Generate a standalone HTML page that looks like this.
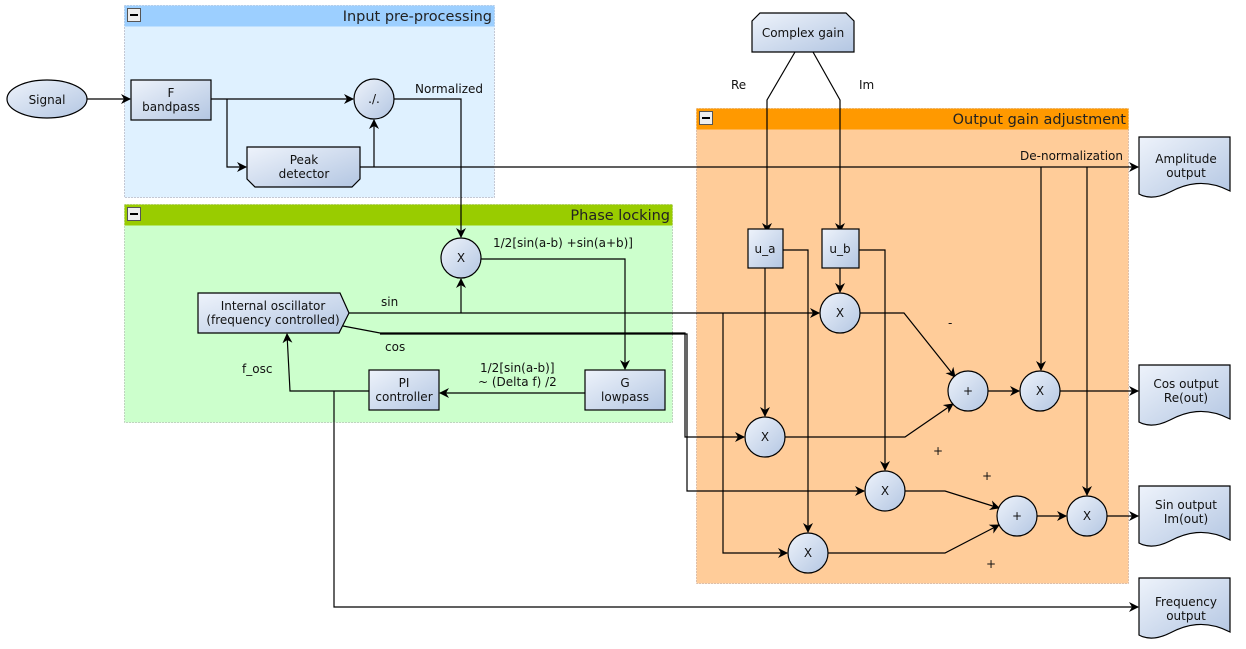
<!DOCTYPE html>
<html><head><meta charset="utf-8"><style>
html,body{margin:0;padding:0;background:#fff;}
svg{display:block;font-family:"DejaVu Sans","Liberation Sans",sans-serif;}
</style></head><body>
<svg width="1246" height="649" viewBox="0 0 1246 649" xmlns="http://www.w3.org/2000/svg">
<defs>
<linearGradient id="g" x1="0" y1="0" x2="1" y2="1">
<stop offset="0" stop-color="#eef3fb"/><stop offset="1" stop-color="#b3c6e2"/>
</linearGradient>
<marker id="a" markerWidth="10" markerHeight="10" refX="9" refY="5" orient="auto" markerUnits="userSpaceOnUse">
<path d="M0,0 L10,5 L0,10 L3,5 Z" fill="#000"/>
</marker>
<symbol id="mn" viewBox="0 0 14 14"><rect x="0.5" y="0.5" width="13" height="13" fill="#eee" stroke="#555"/><rect x="3" y="6" width="8" height="2" fill="#000"/></symbol>
</defs>

<!-- groups -->
<rect x="124.5" y="5.5" width="370" height="192" fill="#dff1ff" stroke="#99a" stroke-dasharray="1,2"/>
<rect x="124.5" y="5.5" width="370" height="21" fill="#9ccfff"/>
<use href="#mn" x="127" y="8" width="14" height="14"/>
<text x="492" y="21" font-size="14.5" text-anchor="end" fill="#222">Input pre-processing</text>

<rect x="124.5" y="204.5" width="548" height="218" fill="#ccffcc" stroke="#9a9" stroke-dasharray="1,2"/>
<rect x="124.5" y="204.5" width="548" height="21" fill="#99cc00"/>
<use href="#mn" x="127" y="207" width="14" height="14"/>
<text x="670" y="220" font-size="14.5" text-anchor="end" fill="#222">Phase locking</text>

<rect x="696.5" y="108.5" width="432" height="475" fill="#ffcc99" stroke="#b98" stroke-dasharray="1,2"/>
<rect x="696.5" y="108.5" width="432" height="21" fill="#ff9900"/>
<use href="#mn" x="699" y="111" width="14" height="14"/>
<text x="1126" y="124" font-size="14.5" text-anchor="end" fill="#222">Output gain adjustment</text>

<g fill="none" stroke="#000" stroke-width="1.2">
<!-- input -->
<path d="M87,99 H130" marker-end="url(#a)"/>
<path d="M211,99 H353" marker-end="url(#a)"/>
<path d="M227,99 V167 H246" marker-end="url(#a)"/>
<path d="M360,167 H1138" marker-end="url(#a)"/>
<path d="M374,167 V120" marker-end="url(#a)"/>
<path d="M394,99 H461 V237" marker-end="url(#a)"/>
<!-- phase -->
<path d="M481,259 H625 V369" marker-end="url(#a)"/>
<path d="M349,313 H819" marker-end="url(#a)"/>
<path d="M461,313 V279" marker-end="url(#a)"/>
<path d="M343,326 L380,333 H685 V437 H744" marker-end="url(#a)"/>
<path d="M380,334 H687 V491 H864" marker-end="url(#a)"/>
<path d="M723,313 V553 H787" marker-end="url(#a)"/>
<path d="M585,393 H440" marker-end="url(#a)"/>
<path d="M369,391 H290 L287,334" marker-end="url(#a)"/>
<path d="M334,391 V607 H1138" marker-end="url(#a)"/>
<!-- gain -->
<path d="M795,52 L767,100 V232" marker-end="url(#a)"/>
<path d="M813,52 L840,100 V232" marker-end="url(#a)"/>
<path d="M783,250 H808 V532" marker-end="url(#a)"/>
<path d="M765,268 V416" marker-end="url(#a)"/>
<path d="M840,268 V292" marker-end="url(#a)"/>
<path d="M859,250 H885 V470" marker-end="url(#a)"/>
<path d="M860,313 H904 L955,377" marker-end="url(#a)"/>
<path d="M785,437 H905 L953,404" marker-end="url(#a)"/>
<path d="M988,391 H1019" marker-end="url(#a)"/>
<path d="M1060,391 H1138" marker-end="url(#a)"/>
<path d="M1041,167 V370" marker-end="url(#a)"/>
<path d="M1087,167 V495" marker-end="url(#a)"/>
<path d="M905,491 H945 L999,508" marker-end="url(#a)"/>
<path d="M828,553 H945 L999,525" marker-end="url(#a)"/>
<path d="M1037,516 H1066" marker-end="url(#a)"/>
<path d="M1107,516 H1138" marker-end="url(#a)"/>
</g>

<g stroke="#000" stroke-width="1.2" fill="url(#g)">
<ellipse cx="47" cy="99" rx="40" ry="19"/>
<rect x="131" y="80" width="80" height="40"/>
<circle cx="374" cy="99" r="20"/>
<path d="M247,147 H360 V179 L352,187 H255 L247,179 Z"/>
<circle cx="461" cy="258" r="20"/>
<path d="M198,293 H340 L349,313 L339,333 H198 Z"/>
<rect x="369" y="370" width="70" height="40"/>
<rect x="585" y="370" width="80" height="40"/>
<path d="M752,21 L760,13 H846 L854,21 V52 H752 Z"/>
<rect x="748" y="229" width="35" height="39"/>
<rect x="822" y="229" width="37" height="39"/>
<circle cx="840" cy="313" r="20"/>
<circle cx="765" cy="437" r="20"/>
<circle cx="968" cy="391" r="20"/>
<circle cx="1040" cy="391" r="20"/>
<circle cx="885" cy="491" r="20"/>
<circle cx="1017" cy="516" r="20"/>
<circle cx="1087" cy="516" r="20"/>
<circle cx="808" cy="553" r="20"/>
<path d="M1139,137 H1230 V191 C1205,178 1185,184 1170,192 C1158,198 1148,199 1139,194 Z"/>
<path d="M1139,365 H1230 V419 C1205,406 1185,412 1170,420 C1158,426 1148,427 1139,422 Z"/>
<path d="M1139,486 H1230 V540 C1205,527 1185,533 1170,541 C1158,547 1148,548 1139,543 Z"/>
<path d="M1139,578 H1230 V632 C1205,619 1185,625 1170,633 C1158,639 1148,640 1139,635 Z"/>
</g>

<g font-size="12" fill="#111" text-anchor="middle">
<text x="47" y="104">Signal</text>
<text x="171" y="97">F</text><text x="171" y="111">bandpass</text>
<text x="374" y="103">./.</text>
<text x="304" y="164">Peak</text><text x="304" y="178">detector</text>
<text x="461" y="262">X</text>
<text x="273" y="310">Internal oscillator</text><text x="273" y="324">(frequency controlled)</text>
<text x="404" y="387">PI</text><text x="404" y="401">controller</text>
<text x="625" y="387">G</text><text x="625" y="401">lowpass</text>
<text x="803" y="37">Complex gain</text>
<text x="765" y="253">u_a</text>
<text x="840" y="253">u_b</text>
<text x="840" y="317">X</text><text x="765" y="441">X</text>
<text x="968" y="395">+</text><text x="1040" y="395">X</text>
<text x="885" y="495">X</text><text x="1017" y="520">+</text>
<text x="1087" y="520">X</text><text x="808" y="557">X</text>
<text x="1186" y="163">Amplitude</text><text x="1186" y="177">output</text>
<text x="1186" y="388">Cos output</text><text x="1186" y="402">Re(out)</text>
<text x="1186" y="509">Sin output</text><text x="1186" y="523">Im(out)</text>
<text x="1186" y="606">Frequency</text><text x="1186" y="620">output</text>
</g>
<g font-size="12" fill="#111">
<text x="415" y="93">Normalized</text>
<text x="493" y="247">1/2[sin(a-b) +sin(a+b)]</text>
<text x="381" y="306">sin</text>
<text x="385" y="351">cos</text>
<text x="242" y="373">f_osc</text>
<text x="480" y="372">1/2[sin(a-b)]</text>
<text x="478" y="386">~ (Delta f) /2</text>
<text x="731" y="89">Re</text>
<text x="859" y="89">Im</text>
<text x="1123" y="160" text-anchor="end">De-normalization</text>
<text x="948" y="327">-</text>
<text x="933" y="455">+</text>
<text x="982" y="480">+</text>
<text x="986" y="568">+</text>
</g>
</svg>
</body></html>
